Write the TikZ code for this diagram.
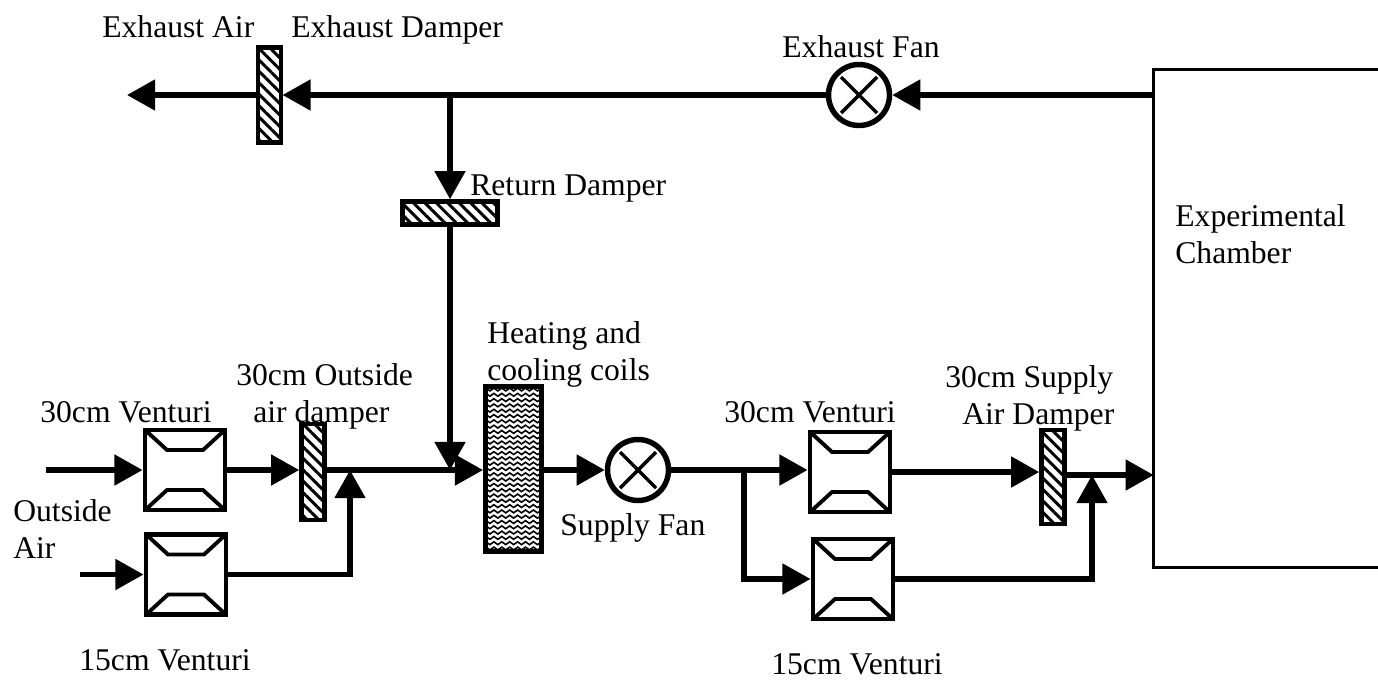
\documentclass[tikz,border=0pt]{standalone}
\usepackage{fontspec}
\setmainfont{Liberation Serif}
\usetikzlibrary{arrows.meta,patterns.meta,decorations.pathmorphing}

\begin{document}
\begin{tikzpicture}[
    x=0.02cm, y=-0.02cm,
    lbl/.style={inner sep=0pt, anchor=base west, align=left, font=\fontsize{18}{21}\selectfont},
    flow/.style={line width=3.1pt, line join=miter, -{Triangle[length=16pt,width=17pt]}},
    damper/.style={draw, line width=2.6pt, inner sep=0pt,
        pattern={Lines[angle=-45,distance=4.6pt,line width=1.7pt]}},
    venturi/.style={draw, line width=2.8pt, minimum size=1.60cm, inner sep=0pt,
        path picture={
            \draw[line width=2.2pt, shift={(path picture bounding box.center)}]
                (-42,-42) -- (-18,-20) -- (18,-20) -- (42,-42)
                (-42,42) -- (-18,20) -- (18,20) -- (42,42);
        }},
    fan/.style={circle, draw, line width=3.1pt, minimum size=1.22cm, inner sep=0pt,
        path picture={
            \draw[line width=2pt, shift={(path picture bounding box.center)}]
                (-18,-18) -- (18,18) (-18,18) -- (18,-18);
        }},
    coils/.style={draw, line width=2.8pt, minimum width=1.12cm, minimum height=3.30cm, inner sep=0pt,
        path picture={
            \foreach \k in {-15,...,15} {
                \draw[line width=0.9pt, decorate, decoration={snake,segment length=4.5pt,amplitude=0.8pt},
                    shift={(path picture bounding box.center)}] (-30,\k*5.3) -- (30,\k*5.3);
            }
        }}
]
    \useasboundingbox (0,0) rectangle (1378,681);

    % Chamber
    \node[minimum width=4.48cm, minimum height=9.94cm, inner sep=0pt] (chamber) at (1266,318.5) {};
    \draw[line width=1.5pt] (chamber.north east) -- (chamber.north west) -- (chamber.south west) -- (chamber.south east);

    % Venturis
    \foreach \name/\x/\y in {ventA/185/470, ventB/186/574.5, ventC/850/472, ventD/853/579} {
        \node[venturi] (\name) at (\x,\y) {};
    }

    % Dampers
    \node[damper, minimum width=0.46cm, minimum height=1.90cm] (exhdamper) at (269.5,95) {};
    \node[damper, minimum width=1.90cm, minimum height=0.46cm] (retdamper) at (450,213) {};
    \node[damper, minimum width=0.46cm, minimum height=1.92cm] (oadamper) at (313,472) {};
    \node[damper, minimum width=0.46cm, minimum height=1.88cm] (sadamper) at (1053,477) {};

    % Fans and coils
    \node[fan] (exhfan) at (859,95) {};
    \node[fan] (supfan) at (638,470) {};
    \node[coils] (coil) at (513.5,469) {};

    % Free ends and tees
    \coordinate (exhout) at (127,95);
    \coordinate (tee) at (450,95);
    \coordinate (inA) at (46,470);
    \coordinate (inB) at (80,574.5);
    \coordinate (joinA) at (350,470);
    \coordinate (teeB) at (744,470);
    \coordinate (joinB) at (1092,475);

    % Exhaust side
    \draw[flow] (exhfan -| chamber.west) -- (exhfan.east);
    \draw[flow] (exhfan.west) -- (exhdamper.east);
    \draw[flow] (exhdamper.west) -- (exhout);
    \draw[flow] (tee) -- (retdamper.north);
    \draw[flow] (retdamper.south) -- (retdamper.south |- joinA);

    % Outside air side
    \draw[flow] (inA) -- (ventA.west);
    \draw[flow] (inB) -- (ventB.west);
    \draw[flow] (ventA.east) -- (ventA.east -| oadamper.west);
    \draw[flow] (ventB.east) -| (joinA);
    \draw[flow] (joinA -| oadamper.east) -- (joinA -| coil.west);

    % Supply side
    \draw[flow] (supfan -| coil.east) -- (supfan.west);
    \draw[flow] (supfan.east) -- (supfan.east -| ventC.west);
    \draw[flow] (teeB) |- (ventD.west);
    \draw[flow] (ventC.east) -- (ventC.east -| sadamper.west);
    \draw[flow] (ventD.east) -| (joinB);
    \draw[flow] (joinB -| sadamper.east) -- (joinB -| chamber.west);

    % Labels
    \node[lbl] (lblexhair) at (102,37) {Exhaust Air};
    \node[lbl] (lblexhdamper) at (291,37) {Exhaust Damper};
    \node[lbl] (lblexhfan) at (782,57) {Exhaust Fan};
    \node[lbl] (lblretdamper) at (470,195) {Return Damper};
    \node[lbl] (lblchamberA) at (1175,226) {Experimental};
    \node[lbl] (lblchamberB) at (1175,263) {Chamber};
    \node[lbl] (lblcoilA) at (487,343) {Heating and};
    \node[lbl] (lblcoilB) at (487,380) {cooling coils};
    \node[lbl] (lbloutA) at (236,385) {30cm Outside};
    \node[lbl] (lbloutB) at (253,422) {air damper};
    \node[lbl] (lblventA) at (40,422) {30cm Venturi};
    \node[lbl] (lblairA) at (13,521) {Outside};
    \node[lbl] (lblairB) at (13,558) {Air};
    \node[lbl] (lblventB) at (79,670) {15cm Venturi};
    \node[lbl] (lblsupfan) at (560,535) {Supply Fan};
    \node[lbl] (lblventC) at (724,422) {30cm Venturi};
    \node[lbl] (lblventD) at (771,674) {15cm Venturi};
    \node[lbl] (lblsupA) at (945,387) {30cm Supply};
    \node[lbl] (lblsupB) at (962,424) {Air Damper};
\end{tikzpicture}
\end{document}
